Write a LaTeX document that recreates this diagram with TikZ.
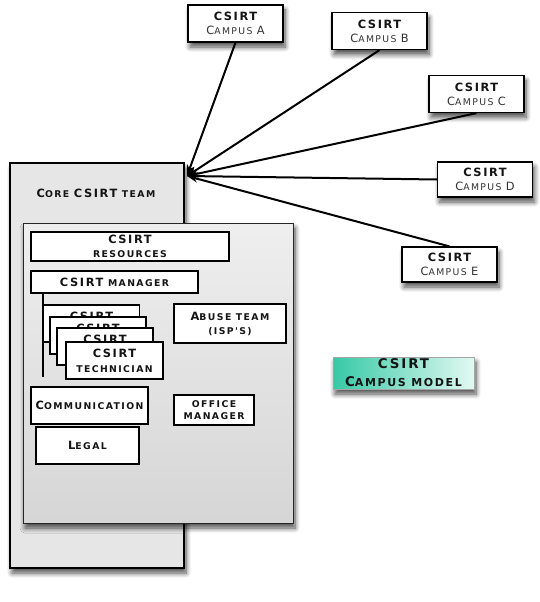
\documentclass[tikz,border=0pt]{standalone}
\usepackage{fontspec}
\usetikzlibrary{arrows.meta,shadows.blur}
\newfontfamily\capsbig[LetterSpace=14]{DejaVu Sans}
\newfontfamily\capssmall[LetterSpace=15]{DejaVu Sans}
% capital letter at full size inside faked small-caps text
\newcommand\Kc[1]{{\capsbig\fontsize{11.4}{13}\selectfont #1}}
\newcommand\Kb[1]{{\capsbig\fontsize{13.4}{15}\selectfont #1}}
\definecolor{txt}{HTML}{141414}
\definecolor{txtsoft}{HTML}{333333}
\definecolor{panelA}{HTML}{E6E6E6}
\definecolor{panelB}{HTML}{E1E1E1}
\definecolor{tealL}{HTML}{36C9A6}
\definecolor{tealR}{HTML}{E2F9F2}
\tikzset{
  softshadow/.style={blur shadow={shadow xshift=2pt, shadow yshift=-5pt, shadow blur radius=5pt, shadow blur steps=8, shadow opacity=70}},
  box/.style={draw=black, line width=1.2pt, fill=white, inner sep=0pt, align=center,
    text=txt, font=\capssmall\bfseries\fontsize{9.3}{14}\selectfont},
  campus/.style={box, softshadow, minimum width=95pt, minimum height=37pt},
  techbox/.style={box, minimum width=96pt, minimum height=37pt, font=\capssmall\bfseries\fontsize{9.3}{15}\selectfont},
  link/.style={line width=2pt, black, -{Stealth[length=11pt,width=7.5pt]}}
}
\newcommand\Campus[1]{\Kc{CSIRT}\\{\mdseries\color{txtsoft}\Kc{C}AMPUS \Kc{#1}}}
\begin{document}
\begin{tikzpicture}[x=1pt,y=-1pt]
\useasboundingbox (0,0) rectangle (539,602);

% campus teams
\node[campus] (A) at (235.5,23.5) {\Campus{A}};
\node[campus] (B) at (379.5,31) {\Campus{B}};
\node[campus] (C) at (476.5,94) {\Campus{C}};
\node[campus, minimum height=35pt] (D) at (485,179.5) {\Campus{D}};
\node[campus, minimum height=35pt] (E) at (449.5,264.5) {\Campus{E}};

% core team panel
\node[draw=black, line width=2pt, fill=panelA, softshadow, minimum width=174pt, minimum height=405pt, inner sep=0pt] (core) at (97,365.5) {};
\node[text=txt, font=\capssmall\bfseries\fontsize{9.3}{14}\selectfont, inner sep=0pt] (coretitle) at (96,193) {\Kc{C}ORE \Kc{CSIRT} TEAM};

% inner panel
\node[draw=black!85, line width=1pt, top color=panelB!55!white, bottom color=panelB!95!black, softshadow, minimum width=270pt, minimum height=300pt, inner sep=0pt] (inner) at (158,373) {};

\node[box, minimum width=198pt, minimum height=29pt] (res) at (130,246.5) {\Kc{CSIRT}\\RESOURCES};
\node[box, line width=2pt, minimum width=167pt, minimum height=22pt] (mgr) at (114.5,282) {\Kc{CSIRT} MANAGER};

% reporting line of the technicians
\coordinate (trunk) at (43,377);
\draw[line width=2pt] (trunk |- mgr.south) -- (trunk);

\node[techbox] (t1) at (91.5,323.5) {\Kc{CSIRT}\\TECHNICIAN};
\node[techbox] (t2) at (98,335.5) {\Kc{CSIRT}\\TECHNICIAN};
\node[techbox] (t3) at (105,346.5) {\Kc{CSIRT}\\TECHNICIAN};
\node[techbox, minimum width=97pt] (t4) at (114.5,360.5) {\Kc{CSIRT}\\TECHNICIAN};

\node[box, minimum width=112pt, minimum height=39pt] (abuse) at (230,323.5) {\Kc{A}BUSE TEAM\\(ISP'S)};
\node[box, minimum width=117pt, minimum height=37pt] (comm) at (89.5,405.5) {\Kc{C}OMMUNICATION};
\node[box, minimum width=103pt, minimum height=37pt] (legal) at (87.5,445.5) {\Kc{L}EGAL};
\node[box, minimum width=80pt, minimum height=30pt, font=\capssmall\bfseries\fontsize{9.3}{12.5}\selectfont] (office) at (214,410) {OFFICE\\MANAGER};

% model caption
\node[draw=black!35, line width=0.4pt, left color=tealL, right color=tealR, softshadow, inner sep=0pt,
  minimum width=141pt, minimum height=32pt, align=center, text=txt,
  font=\capssmall\bfseries\fontsize{11}{18}\selectfont] (model) at (403.5,373) {\Kb{CSIRT}\\\Kb{C}AMPUS MODEL};

% links from every campus to the core team
\coordinate (hub) at (187,176);
\draw[link] (A.south) -- (hub);
\draw[link] (B.south) -- (hub);
\draw[link] (C.south) -- (hub);
\draw[link] (D.west) -- (hub);
\draw[link] (E.north) -- (hub);
\end{tikzpicture}
\end{document}
